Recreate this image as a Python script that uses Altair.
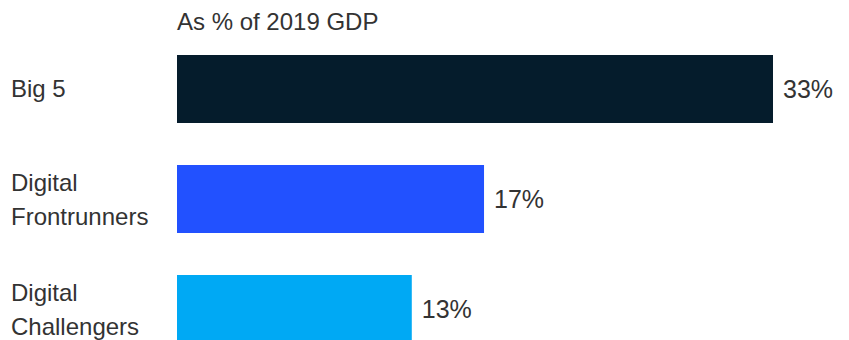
import altair as alt
import pandas as pd

categories = ["Big 5", "Digital|Frontrunners", "Digital|Challengers"]
values = [33, 17, 13]
colors = ["#051c2c", "#2251ff", "#00a9f4"]
title_text = "As % of 2019 GDP"

FONT = "Liberation Sans"
TXT = "#333333"
FS = 24

df = pd.DataFrame({"cat": categories, "value": values, "color": colors})

y = alt.Y("cat:N", sort=categories, axis=None,
          scale=alt.Scale(paddingInner=0.382, paddingOuter=0.191))
x = alt.X("value:Q", axis=None,
          scale=alt.Scale(domain=[0, 33], nice=False, zero=True))

base = alt.Chart(df)
bars = base.mark_bar().encode(x=x, y=y, color=alt.Color("color:N", scale=None))
vals = base.transform_calculate(lab="datum.value + '%'").mark_text(
    align="left", baseline="alphabetic", dx=10, dy=9, fontSize=FS + 1, color=TXT, font=FONT
).encode(x=x, y=y, text="lab:N")
labs_single = base.transform_filter("indexof(datum.cat, '|') < 0").mark_text(
    align="left", baseline="alphabetic", dy=8, fontSize=FS, color=TXT, font=FONT
).encode(x=alt.value(-166), y=y, text="cat:N")
labs_multi = base.transform_filter("indexof(datum.cat, '|') >= 0").mark_text(
    align="left", baseline="alphabetic", dy=-8, lineBreak="|", lineHeight=34,
    fontSize=FS, color=TXT, font=FONT
).encode(x=alt.value(-166), y=y, text="cat:N")

chart = alt.layer(bars, vals, labs_single, labs_multi).properties(
    width=596, height=330,
    padding={"left": 169, "top": 26, "right": 68, "bottom": 0},
    autosize="none",
    title=alt.TitleParams(title_text, anchor="start", frame="group", fontSize=FS,
                          fontWeight="normal", color=TXT, font=FONT, offset=-1),
).configure_view(stroke=None)

chart.save("out.html", embed_options={"renderer": "svg", "actions": False})
